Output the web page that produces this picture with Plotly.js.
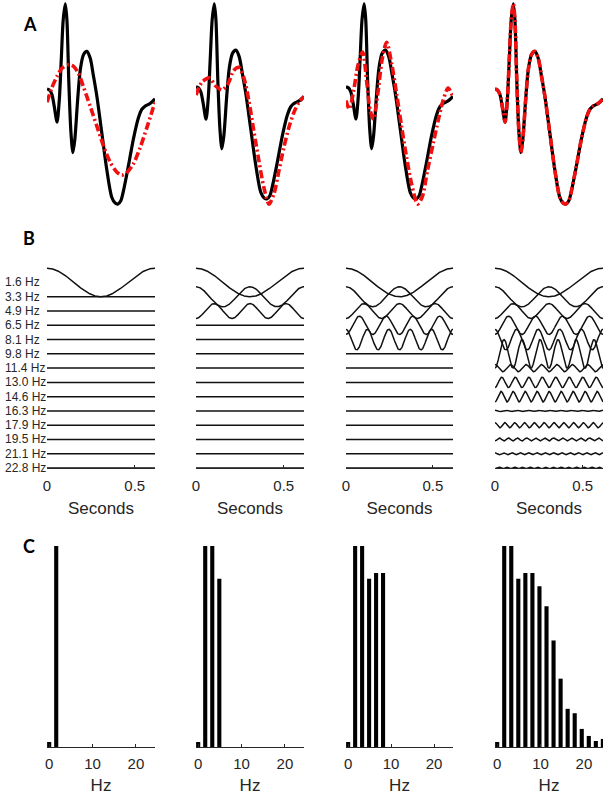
<!DOCTYPE html>
<html>
<head>
<meta charset="utf-8">
<script src="https://cdn.plot.ly/plotly-3.0.1.min.js"></script>
<style>html,body{margin:0;padding:0;background:#fff;}#chart{width:609px;height:795px;}</style>
</head>
<body>
<div id="chart"></div>
<script>
// ---------- Panel A : signal and partial reconstructions (time in s) ----------
const tBlack = [0, 0.015, 0.028, 0.041, 0.057, 0.070, 0.081, 0.092, 0.104, 0.113, 0.124, 0.136, 0.147, 0.158, 0.174, 0.189, 0.207, 0.226, 0.245, 0.264, 0.283, 0.311, 0.339, 0.368, 0.387, 0.402, 0.419, 0.434, 0.462, 0.490, 0.519, 0.538, 0.556, 0.585, 0.613];
const vBlack = [3.2, 2.8, 1.5, -2.0, -6.8, 0, 12, 24, 28.8, 24, 5, -10, -16, -12, 0, 9, 13.5, 14.5, 12.5, 7, 1, -10, -21, -29.5, -31.2, -31.5, -30.5, -27.5, -20, -12, -5.5, -3, -2, -1.2, 0.2];

const tRed1 = [0, 0.028, 0.057, 0.085, 0.123, 0.151, 0.179, 0.207, 0.245, 0.283, 0.321, 0.358, 0.392, 0.424, 0.453, 0.490, 0.528, 0.566, 0.613];
const vRed1 = [-0.8, 3.6, 7.0, 9.4, 10.5, 10.0, 7.8, 3.8, -2.0, -8.0, -14.0, -18.8, -21.6, -22.8, -22.0, -19.4, -14.6, -8.6, -0.8];

const tRed2 = [0, 0.034, 0.076, 0.110, 0.148, 0.182, 0.214, 0.243, 0.271, 0.300, 0.328, 0.357, 0.385, 0.414, 0.442, 0.471, 0.499, 0.528, 0.556, 0.585, 0.613];
const vRed2 = [0.6, 4.6, 5.9, 3.5, 2.2, 4.1, 8.2, 9.2, 6.1, -1.1, -10.4, -19.7, -27.9, -33.1, -30.0, -22.7, -15.5, -9.3, -4.7, -1.6, 0.1];

const tRed3 = [0, 0.019, 0.044, 0.068, 0.095, 0.120, 0.139, 0.158, 0.182, 0.209, 0.233, 0.262, 0.290, 0.319, 0.347, 0.376, 0.410, 0.436, 0.467, 0.499, 0.528, 0.556, 0.585, 0.613];
const vRed3 = [-1.1, -3.7, 2.0, 9.7, 13.9, 4.1, -4.2, -6.8, 1.0, 12.3, 16.9, 10.2, 1.0, -9.3, -18.6, -26.9, -33.1, -31.0, -22.7, -14.5, -7.3, -1.1, 2.8, -0.1];

// ---------- Panel B : frequency components ----------
const compLabels = ['1.6 Hz','3.3 Hz','4.9 Hz','6.5 Hz','8.1 Hz','9.8 Hz','11.4 Hz','13.0 Hz','14.6 Hz','16.3 Hz','17.9 Hz','19.5 Hz','21.1 Hz','22.8 Hz'];
const compFreqs = [1.625, 3.25, 4.875, 6.5, 8.125, 9.75, 11.375, 13.0, 14.625, 16.25, 17.875, 19.5, 21.125, 22.75];
const compAmps  = [1.0, 0.7, 0.52, 0.64, 0.72, 1.0, 0.25, 0.36, 0.37, 0.04, 0.18, 0.1, 0.07, 0.06];
const compSigns = [1, 1, -1, -1, 1, -1, 1, -1, -1, 1, 1, -1, 1, -1];
const nComponents = [1, 3, 5, 14];
const duration = 1 / 1.625;

// ---------- Panel C : spectrum ----------
const specFreqs = [0, 1.625, 3.25, 4.875, 6.5, 8.125, 9.75, 11.375, 13.0, 14.625, 16.25, 17.875, 19.5, 21.125, 22.75, 24.375];
const specAmps  = [0.025, 1.5, 1.4, 0.837, 0.866, 0.866, 0.80, 0.70, 0.53, 0.34, 0.19, 0.168, 0.09, 0.055, 0.03, 0.04];
const specShown = [2, 4, 6, 16];

const W = 609, H = 795;
const FONT = 'Liberation Sans, Arial, sans-serif';
const TXT = '#262626';
const cols = [[47,155],[196,304],[346,453],[495,603]];
const dx = c => [c[0]/W, c[1]/W];
const dy = (top, bot) => [1 - bot/H, 1 - top/H];

const traces = [];
const layout = {
  width: W, height: H, margin: {l:0, r:0, t:0, b:0},
  paper_bgcolor: '#fff', plot_bgcolor: '#fff', showlegend: false,
  annotations: []
};

const reds = [[tRed1, vRed1], [tRed2, vRed2], [tRed3, vRed3], [tBlack, vBlack]];
for (let p = 0; p < 4; p++) {
  const ia = p + 1;
  const xa = 'x' + ia, ya = 'y' + ia;
  traces.push({x: tBlack, y: vBlack, xaxis: xa, yaxis: ya, type: 'scatter', mode: 'lines',
    line: {color: '#000', width: 3.2, shape: 'spline', smoothing: 0.8}, hoverinfo: 'skip'});
  traces.push({x: reds[p][0], y: reds[p][1], xaxis: xa, yaxis: ya, type: 'scatter', mode: 'lines',
    line: {color: '#f01010', width: 3.6, dash: '8px,3px,2px,3px', shape: 'spline', smoothing: 0.8}, hoverinfo: 'skip'});
  const all = vBlack.concat(reds[p][1]);
  const mn = Math.min(...all), mx = Math.max(...all), pad = (mx - mn) * 0.012;
  layout['xaxis' + (ia === 1 ? '' : ia)] = {domain: dx(cols[p]), range: [0, 0.613], visible: false, anchor: ya, fixedrange: true};
  layout['yaxis' + (ia === 1 ? '' : ia)] = {domain: dy(1.5, 206.5), range: [mn - pad, mx + pad], visible: false, anchor: xa, fixedrange: true};
}

const NS = 400;
const tS = Array.from({length: NS}, (_, i) => i / (NS - 1) * duration);
for (let p = 0; p < 4; p++) {
  const ia = p + 5;
  const xa = 'x' + ia, ya = 'y' + ia;
  for (let k = 0; k < compFreqs.length; k++) {
    const a = k < nComponents[p] ? compAmps[k] * compSigns[k] : 0;
    traces.push({x: tS, y: tS.map(t => -(k + 1) + a * Math.cos(2 * Math.PI * compFreqs[k] * t)),
      xaxis: xa, yaxis: ya, type: 'scatter', mode: 'lines', line: {color: '#111', width: 1.5}, hoverinfo: 'skip'});
  }
  layout['xaxis' + ia] = {domain: dx(cols[p]), range: [0, duration], anchor: ya, fixedrange: true,
    showline: true, linecolor: TXT, linewidth: 1, showgrid: false, zeroline: false,
    ticks: 'inside', ticklen: 3, tickcolor: TXT, tickmode: 'array', tickvals: [0, 0.5], ticktext: ['0', '0.5'],
    tickfont: {family: FONT, size: 15, color: TXT}, ticklabelstandoff: 4,
    title: {text: 'Seconds', font: {family: FONT, size: 17, color: TXT}, standoff: 9}};
  layout['yaxis' + ia] = {domain: dy(266.5, 468), range: [-14, 0.12], visible: false, anchor: xa, fixedrange: true};
}

for (let p = 0; p < 4; p++) {
  const ia = p + 9;
  const xa = 'x' + ia, ya = 'y' + ia;
  traces.push({x: specFreqs.slice(0, specShown[p]), y: specAmps.slice(0, specShown[p]), xaxis: xa, yaxis: ya,
    type: 'bar', width: 0.95, marker: {color: '#000', line: {width: 0}}, hoverinfo: 'skip'});
  layout['xaxis' + ia] = {domain: dx(cols[p]), range: [-0.5, 24.4], anchor: ya, fixedrange: true,
    showline: true, linecolor: TXT, linewidth: 1, showgrid: false, zeroline: false,
    ticks: 'inside', ticklen: 3, tickcolor: TXT, tickmode: 'array', tickvals: [0, 10, 20], ticktext: ['0', '10', '20'],
    tickfont: {family: FONT, size: 15, color: TXT}, ticklabelstandoff: 3,
    title: {text: 'Hz', font: {family: FONT, size: 17, color: TXT}, standoff: 11}};
  layout['yaxis' + ia] = {domain: dy(546, 747), range: [0, 1], visible: false, anchor: xa, fixedrange: true};
}

compLabels.forEach((lab, k) => {
  layout.annotations.push({text: lab, xref: 'paper', yref: 'y5', x: 3 / W, y: -(k + 1), xanchor: 'left', yanchor: 'middle',
    showarrow: false, font: {family: FONT, size: 12, color: TXT}});
});
[['A', 24], ['B', 238], ['C', 546]].forEach(([l, y]) => {
  layout.annotations.push({text: '<b>' + l + '</b>', xref: 'paper', yref: 'paper', x: 21 / W, y: 1 - y / H,
    xanchor: 'left', yanchor: 'middle', showarrow: false, font: {family: 'Lato, Open Sans, sans-serif', size: 18, color: '#000'}});
});

Plotly.newPlot('chart', traces, layout, {staticPlot: true, displayModeBar: false});
</script>
</body>
</html>
